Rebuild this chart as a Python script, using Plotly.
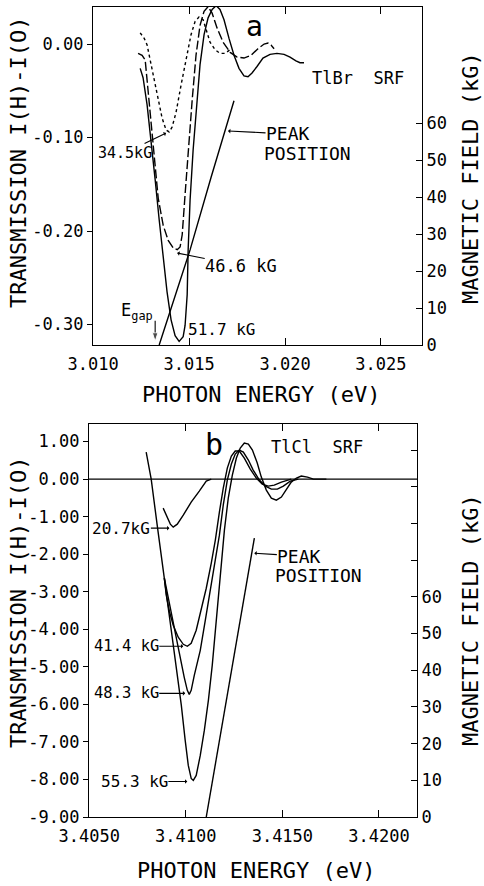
import plotly.graph_objects as go

# ---------------- Panel (a): TlBr SRF ----------------
e_345 = [3.01245, 3.01266, 3.01281, 3.01297, 3.01318, 3.01339, 3.01359, 3.01380, 3.01396, 3.01411,
         3.01432, 3.01458, 3.01484, 3.01510, 3.01531, 3.01552, 3.01573, 3.01589, 3.01609, 3.01635,
         3.01661, 3.01688, 3.01714]
t_345 = [0.012, 0.006, -0.001, -0.017, -0.039, -0.060, -0.079, -0.092, -0.094, -0.089,
         -0.073, -0.044, -0.015, 0.010, 0.024, 0.029, 0.026, 0.015, 0.002, -0.006,
         -0.010, -0.010, -0.006]

e_466 = [3.01234, 3.01255, 3.01271, 3.01281, 3.01297, 3.01318, 3.01339, 3.01365, 3.01391, 3.01417,
         3.01438, 3.01453, 3.01464, 3.01479, 3.01495, 3.01516, 3.01536, 3.01557, 3.01578, 3.01599,
         3.01620, 3.01646, 3.01677, 3.01714, 3.01750, 3.01786, 3.01823, 3.01859, 3.01891, 3.01911,
         3.01927, 3.01943]
t_466 = [-0.010, -0.012, -0.017, -0.039, -0.076, -0.124, -0.165, -0.194, -0.210, -0.218,
         -0.220, -0.217, -0.204, -0.161, -0.113, -0.060, -0.012, 0.020, 0.035, 0.040,
         0.033, 0.017, 0.002, -0.009, -0.014, -0.015, -0.012, -0.005, 0.000, 0.001,
         -0.001, -0.005]

e_517 = [3.01245, 3.01260, 3.01281, 3.01302, 3.01323, 3.01344, 3.01365, 3.01385, 3.01406, 3.01427,
         3.01448, 3.01469, 3.01479, 3.01490, 3.01495, 3.01505, 3.01521, 3.01536, 3.01557, 3.01578,
         3.01599, 3.01620, 3.01641, 3.01661, 3.01682, 3.01708, 3.01734, 3.01760, 3.01786, 3.01807,
         3.01828, 3.01854, 3.01885, 3.01922, 3.01958, 3.01995, 3.02026, 3.02057, 3.02078, 3.02099]
t_517 = [-0.026, -0.036, -0.065, -0.103, -0.145, -0.188, -0.229, -0.265, -0.295, -0.312,
         -0.318, -0.313, -0.301, -0.268, -0.220, -0.167, -0.113, -0.071, -0.022, 0.010,
         0.028, 0.037, 0.041, 0.037, 0.026, 0.006, -0.012, -0.026, -0.034, -0.035,
         -0.031, -0.024, -0.015, -0.011, -0.010, -0.011, -0.014, -0.018, -0.020, -0.020]

peak_a_e = [3.01344, 3.01505, 3.01615, 3.01734]
peak_a_kg = [0.0, 25.7, 45.4, 66.0]

egap_e = 3.01323          # band-gap energy marked by the arrow
egap_arrow_t = [-0.296, -0.318]

a_xticks = [3.010, 3.015, 3.020, 3.025]
a_xtext = ["3.010", "3.015", "3.020", "3.025"]
a_yticks = [0.0, -0.10, -0.20, -0.30]
a_ytext = ["0.00", "-0.10", "-0.20", "-0.30"]
a_kgticks = [0, 10, 20, 30, 40, 50, 60]

# ---------------- Panel (b): TlCl SRF ----------------
e_207 = [3.40883, 3.40904, 3.40920, 3.40935, 3.40956, 3.40987, 3.41028, 3.41070, 3.41106, 3.41132]
t_207 = [-0.773, -1.040, -1.200, -1.280, -1.200, -0.960, -0.613, -0.320, -0.053, 0.0]

e_414 = [3.40889, 3.40899, 3.40915, 3.40935, 3.40961, 3.40987, 3.41008, 3.41028, 3.41054, 3.41080,
         3.41106, 3.41132, 3.41153, 3.41174, 3.41194, 3.41215, 3.41236, 3.41256, 3.41277, 3.41303,
         3.41334, 3.41365, 3.41396, 3.41427, 3.41458, 3.41495, 3.41546]
t_414 = [-2.640, -3.093, -3.520, -3.893, -4.213, -4.400, -4.453, -4.373, -4.027, -3.493,
         -2.907, -2.240, -1.627, -0.880, -0.240, 0.293, 0.613, 0.747, 0.747, 0.560,
         0.267, 0.027, -0.133, -0.187, -0.160, -0.080, 0.0]

e_483 = [3.40889, 3.40915, 3.40940, 3.40966, 3.40992, 3.41008, 3.41018, 3.41028, 3.41044, 3.41075,
         3.41101, 3.41127, 3.41153, 3.41174, 3.41194, 3.41215, 3.41236, 3.41256, 3.41277, 3.41298,
         3.41324, 3.41349, 3.41381, 3.41412, 3.41443, 3.41474, 3.41505, 3.41541, 3.41583]
t_483 = [-2.640, -3.280, -3.947, -4.613, -5.280, -5.627, -5.733, -5.627, -5.227, -4.560,
         -3.760, -2.960, -2.160, -1.493, -0.693, -0.027, 0.400, 0.667, 0.773, 0.720,
         0.507, 0.240, -0.027, -0.187, -0.267, -0.267, -0.187, -0.053, 0.0]

e_553 = [3.40795, 3.40821, 3.40852, 3.40883, 3.40915, 3.40946, 3.40977, 3.40997, 3.41013, 3.41028,
         3.41039, 3.41054, 3.41075, 3.41096, 3.41117, 3.41137, 3.41158, 3.41179, 3.41200, 3.41220,
         3.41241, 3.41262, 3.41282, 3.41303, 3.41324, 3.41345, 3.41370, 3.41391, 3.41417, 3.41443,
         3.41469, 3.41495, 3.41521, 3.41546, 3.41573, 3.41598, 3.41630, 3.41661, 3.41728]
t_553 = [0.720, 0.0, -1.227, -2.427, -3.627, -4.827, -6.027, -6.960, -7.627, -7.973,
         -8.027, -7.893, -7.360, -6.693, -5.893, -4.960, -3.760, -2.427, -1.360, -0.507,
         0.107, 0.560, 0.827, 0.960, 0.933, 0.773, 0.427, 0.053, -0.293, -0.507,
         -0.560, -0.480, -0.267, -0.080, 0.027, 0.080, 0.053, 0.0, 0.0]

peak_b_e = [3.41106, 3.41355]
peak_b_kg = [0.0, 76.0]

b_xticks = [3.4050, 3.4100, 3.4150, 3.4200]
b_xtext = ["3.4050", "3.4100", "3.4150", "3.4200"]
b_yticks = [1, 0, -1, -2, -3, -4, -5, -6, -7, -8, -9]
b_ytext = ["1.00", "0.00", "-1.00", "-2.00", "-3.00", "-4.00", "-5.00", "-6.00", "-7.00", "-8.00", "-9.00"]
b_kgticks = [0, 10, 20, 30, 40, 50, 60]
b_kgticks_unlabelled = [70, 80, 90, 100]

# ---------------- figure ----------------
W, H = 484, 886
FONT = "DejaVu Sans Mono"
BLK = "black"


def px(x):
    return x / W


def py(y):
    return 1 - y / H


fig = go.Figure()
ln = dict(color=BLK, width=1.4)

fig.add_trace(go.Scatter(x=e_345, y=t_345, mode="lines", line=dict(color=BLK, width=1.4, dash="dot"),
                         xaxis="x", yaxis="y", name="34.5 kG"))
fig.add_trace(go.Scatter(x=e_466, y=t_466, mode="lines", line=dict(color=BLK, width=1.4, dash="9px,3px"),
                         xaxis="x", yaxis="y", name="46.6 kG"))
fig.add_trace(go.Scatter(x=e_517, y=t_517, mode="lines", line=ln, xaxis="x", yaxis="y", name="51.7 kG"))
fig.add_trace(go.Scatter(x=peak_a_e, y=peak_a_kg, mode="lines", line=ln, xaxis="x", yaxis="y2",
                         name="peak position"))
fig.add_trace(go.Scatter(x=[egap_e, egap_e], y=egap_arrow_t, mode="lines+markers",
                         line=dict(color=BLK, width=1.1),
                         marker=dict(symbol="arrow", angleref="previous", size=[0, 9], color=BLK),
                         xaxis="x", yaxis="y", name="E gap"))

fig.add_trace(go.Scatter(x=e_207, y=t_207, mode="lines", line=ln, xaxis="x2", yaxis="y3", name="20.7 kG"))
fig.add_trace(go.Scatter(x=e_414, y=t_414, mode="lines", line=ln, xaxis="x2", yaxis="y3", name="41.4 kG"))
fig.add_trace(go.Scatter(x=e_483, y=t_483, mode="lines", line=ln, xaxis="x2", yaxis="y3", name="48.3 kG"))
fig.add_trace(go.Scatter(x=e_553, y=t_553, mode="lines", line=ln, xaxis="x2", yaxis="y3", name="55.3 kG"))
fig.add_trace(go.Scatter(x=peak_b_e, y=peak_b_kg, mode="lines", line=ln, xaxis="x2", yaxis="y4",
                         name="peak position"))

tickfont = dict(family=FONT, size=17, color=BLK)
common = dict(showgrid=False, zeroline=False, showline=True, linecolor=BLK, linewidth=1.3,
              tickcolor=BLK, tickwidth=1.2, tickfont=tickfont, automargin=False)

fig.update_layout(
    width=W, height=H,
    margin=dict(l=0, r=0, t=0, b=0, autoexpand=False),
    paper_bgcolor="white", plot_bgcolor="white",
    showlegend=False,
    font=dict(family=FONT, color=BLK),
    xaxis=dict(domain=[px(93), px(422)], range=[3.00999, 3.02714], anchor="y",
               tickvals=a_xticks, ticktext=a_xtext, ticks="inside", ticklen=7, mirror="ticks",
               ticklabelstandoff=3, **common),
    yaxis=dict(domain=[py(345), py(7)], range=[-0.3219, 0.0396], anchor="x",
               tickvals=a_yticks, ticktext=a_ytext, ticks="outside", ticklen=5, **common),
    yaxis2=dict(domain=[py(345), py(7)], range=[0, 91.35], anchor="x", overlaying="y", side="right",
                tickvals=a_kgticks, ticks="inside", ticklen=6, **common),
    xaxis2=dict(domain=[px(89), px(417)], range=[3.40499, 3.42197], anchor="y3",
                tickvals=b_xticks, ticktext=b_xtext, ticks="inside", ticklen=7, mirror="ticks",
                ticklabelstandoff=3, **common),
    yaxis3=dict(domain=[py(817), py(424)], range=[-9.0, 1.467], anchor="x2",
                tickvals=b_yticks, ticktext=b_ytext, ticks="outside", ticklen=5, **common),
    yaxis4=dict(domain=[py(817), py(424)], range=[0, 107.1], anchor="x2", overlaying="y3", side="right",
                tickvals=b_kgticks, ticks="inside", ticklen=6,
                minor=dict(tickmode="array", tickvals=b_kgticks_unlabelled, ticks="inside", ticklen=6,
                           tickcolor=BLK, tickwidth=1.2, showgrid=False),
                **common),
)

# zero line in panel b
fig.add_shape(type="line", xref="x2 domain", x0=0, x1=1, yref="y3", y0=0, y1=0,
              line=dict(color=BLK, width=1.1))


def text(x, y, s, size=17, xanchor="left", angle=0):
    fig.add_annotation(x=px(x), y=py(y), xref="paper", yref="paper", text=s, showarrow=False,
                       xanchor=xanchor, yanchor="middle", textangle=angle,
                       font=dict(family=FONT, size=size, color=BLK))


def label(s, x, y, xr, yr, ax, ay, size=16):
    """text whose centre sits ax, ay pixels from the data point it points at"""
    fig.add_annotation(x=x, y=y, xref=xr, yref=yr, text=s, showarrow=True, ax=ax, ay=ay,
                       arrowhead=1, arrowsize=0.7, arrowwidth=1.1, arrowcolor=BLK,
                       font=dict(family=FONT, size=size, color=BLK), borderpad=0)


# axis titles
text(18, 163, "TRANSMISSION I(H)-I(O)", 22, "center", -90)
text(470, 178, "MAGNETIC FIELD (kG)", 22, "center", -90)
text(261, 395, "PHOTON ENERGY (eV)", 22, "center")
text(18, 603, "TRANSMISSION I(H)-I(O)", 22, "center", -90)
text(470, 620, "MAGNETIC FIELD (kG)", 22, "center", -90)
text(256, 870, "PHOTON ENERGY (eV)", 22, "center")

# panel a labels
text(255, 27, "a", 28, "center")
text(310, 78, "TlBr  SRF", 17)
text(186, 329, "51.7 kG", 16)
text(119, 311, "E<sub>gap</sub>", 17)
text(262, 154, "POSITION", 18)

label("PEAK", 3.01703, -0.093, "x", "y", 60, 3, 18)
label("34.5kG", 3.01380, -0.0952, "x", "y", -41, 20, 15)
label("46.6 kG", 3.01438, -0.2235, "x", "y", 64, 13, 17)

# panel b labels
text(214, 445, "b", 30, "center")
text(269, 447, "TlCl  SRF", 17)
text(273, 575, "POSITION", 18)

label("PEAK", 3.41355, -1.973, "x2", "y3", 45, 3, 18)
label("20.7kG", 3.40915, -1.307, "x2", "y3", -48, 0, 16)
label("41.4 kG", 3.40987, -4.453, "x2", "y3", -57, 0, 15.5)
label("48.3 kG", 3.40997, -5.707, "x2", "y3", -59, 0, 15.5)
label("55.3 kG", 3.41008, -8.053, "x2", "y3", -53, 0, 16)

fig.write_html("out.html")
